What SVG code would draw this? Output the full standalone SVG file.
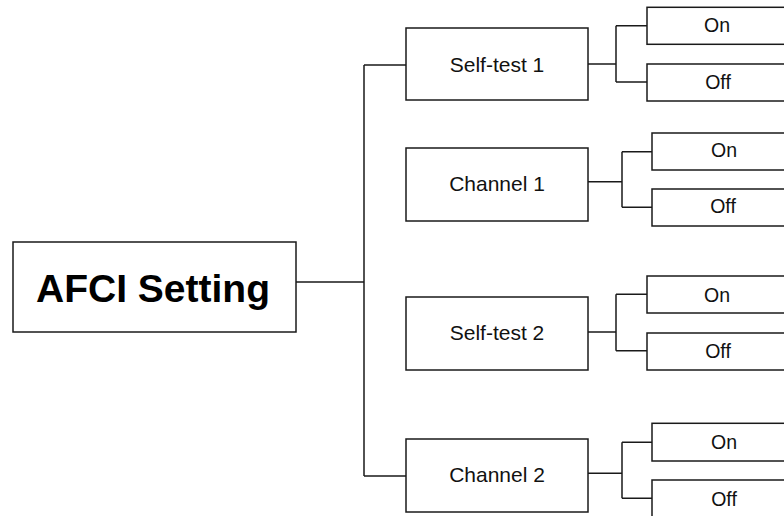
<svg xmlns="http://www.w3.org/2000/svg" width="784" height="516" viewBox="0 0 784 516">
<style>
.b{fill:#fff;stroke:#1a1a1a;stroke-width:1.5}
.l{fill:none;stroke:#1a1a1a;stroke-width:1.5}
.t{font-family:"Liberation Sans",Arial,sans-serif;font-size:21px;fill:#111;text-anchor:middle}
.s{font-family:"Liberation Sans",Arial,sans-serif;font-size:19.5px;fill:#111;text-anchor:middle}
.h{font-family:"Liberation Sans",Arial,sans-serif;font-size:39px;font-weight:bold;fill:#000;text-anchor:middle}
</style>
<rect width="784" height="516" fill="#fff"/>
<g id="connectors" class="l">
<path d="M296 282H364M364 65V476M364 65H406M364 476H406"/>
<path d="M588 64H616M616 25.7V82M616 25.7H647M616 82H647"/>
<path d="M588 181.7H622M622 151.7V207.3M622 151.7H652M622 207.3H652"/>
<path d="M588 332H616M616 294.3V350.7M616 294.3H647M616 350.7H647"/>
<path d="M588 473.3H622M622 442.3V498.3M622 442.3H652M622 498.3H652"/>
</g>
<g id="afci"><rect class="b" x="13" y="242" width="283" height="90"/><text class="h" x="153" y="302">AFCI Setting</text></g>
<g id="selftest1"><rect class="b" x="406" y="28" width="182" height="72"/><text class="t" x="497" y="71.5">Self-test 1</text></g>
<g id="channel1"><rect class="b" x="406" y="148" width="182" height="73"/><text class="t" x="497" y="191">Channel 1</text></g>
<g id="selftest2"><rect class="b" x="406" y="297" width="182" height="73"/><text class="t" x="497" y="340">Self-test 2</text></g>
<g id="channel2"><rect class="b" x="406" y="439" width="182" height="73"/><text class="t" x="497" y="482">Channel 2</text></g>
<g id="on1"><rect class="b" x="647" y="7.3" width="150" height="37"/><text class="s" x="717" y="32.3">On</text></g>
<g id="off1"><rect class="b" x="647" y="64" width="150" height="37"/><text class="s" x="718" y="88.7">Off</text></g>
<g id="on2"><rect class="b" x="652" y="133" width="150" height="37"/><text class="s" x="724" y="156.7">On</text></g>
<g id="off2"><rect class="b" x="652" y="189" width="150" height="37"/><text class="s" x="723" y="212.7">Off</text></g>
<g id="on3"><rect class="b" x="647" y="276" width="150" height="37"/><text class="s" x="717" y="301.7">On</text></g>
<g id="off3"><rect class="b" x="647" y="333" width="150" height="37"/><text class="s" x="718" y="358.3">Off</text></g>
<g id="on4"><rect class="b" x="652" y="423.3" width="150" height="37.7"/><text class="s" x="724" y="449">On</text></g>
<g id="off4"><rect class="b" x="652" y="480" width="150" height="40"/><text class="s" x="724" y="505.7">Off</text></g>
</svg>
